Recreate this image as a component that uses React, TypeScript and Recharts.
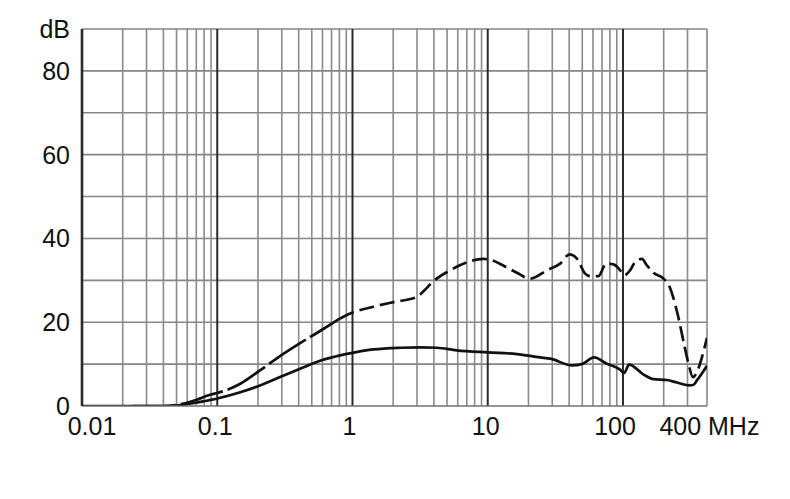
import React from 'react';
import { LineChart, Line, XAxis, YAxis, ReferenceLine } from 'recharts';

// ---- data ----
const solidFreq = [0.01, 0.041, 0.056, 0.075, 0.1, 0.148, 0.207, 0.291, 0.41, 0.576, 0.81, 1.0, 1.43, 2.25, 3.16, 4.2, 5.9, 10, 16.4, 24.4, 29, 41.9, 49.6, 61.2, 76, 95.3, 102, 111, 142, 168, 211, 251, 310, 330, 352, 418];
const solidDb = [0, 0, 0.3, 1.0, 1.8, 3.3, 4.9, 6.9, 8.9, 10.8, 12.1, 12.7, 13.5, 13.9, 14.0, 13.9, 13.3, 12.8, 12.4, 11.6, 11.3, 9.7, 10.0, 11.6, 10.1, 8.7, 7.9, 9.9, 7.5, 6.4, 6.2, 5.6, 4.9, 5.0, 6.1, 9.6];

const dashFreq = [0.0234, 0.0397, 0.0531, 0.0705, 0.0885, 0.1, 0.148, 0.207, 0.291, 0.41, 0.576, 0.81, 1.0, 1.43, 2.01, 2.99, 3.35, 3.97, 5.27, 7.0, 9.3, 10.4, 13.1, 16.4, 20.6, 27.4, 34.3, 40.3, 45.6, 52.5, 57.2, 65.9, 75.1, 85.1, 95.3, 102, 113, 123, 138, 150, 168, 199.5, 217, 251, 284, 305, 329, 352, 384, 418];
const dashDb = [0, 0, 0.4, 1.5, 2.7, 3.1, 5.3, 8.5, 11.9, 15.0, 17.9, 20.9, 22.3, 23.7, 24.8, 26.0, 27.4, 29.8, 32.4, 34.3, 35.1, 34.9, 33.5, 31.8, 30.4, 32.4, 34.0, 36.2, 35.2, 31.6, 31.0, 31.0, 34.0, 33.8, 32.4, 31.2, 32.4, 34.4, 35.1, 33.6, 31.8, 30.4, 29.0, 22.5, 14.5, 10.1, 6.9, 8.1, 11.7, 16.3];
// index where the long-dash part of the upper curve ends and the short-dash part begins
const DASH_SPLIT = 11;

const xTickValues = [0.01, 0.1, 1, 10, 100, 400];
const xTickLabels = ['0.01', '0.1', '1', '10', '100', '400 MHz'];
const yTickValues = [0, 20, 40, 60, 80, 90];
const yTickLabels = ['0', '20', '40', '60', '80', 'dB'];
const yGridValues = [10, 20, 30, 40, 50, 60, 70, 80, 90];
const decadeValues = [0.1, 1, 10, 100];
const decadeStarts = [0.01, 0.1, 1, 10, 100];
const minorMultipliers = [2, 3, 4, 5, 6, 7, 8, 9];
const X_MIN = 0.01;
const X_MAX = 418;
const Y_MAX = 90;

const solidData = solidFreq.map((f, i) => ({ f, db: solidDb[i] }));
const dashData = dashFreq.map((f, i) => ({ f, db: dashDb[i] }));
const dashLow = dashData.slice(0, DASH_SPLIT + 1);
const dashHigh = dashData.slice(DASH_SPLIT);
const minorValues: number[] = [];
decadeStarts.forEach((d) =>
  minorMultipliers.forEach((m) => {
    const v = d * m;
    if (v < 400) minorValues.push(v);
  })
);

// ---- styles ----
const FONT = '"Liberation Sans", Arial, sans-serif';
const FS = 25;
const xTickDx = [10, -2, -3, -2, -8, 5];

function XTick(props: any) {
  const { x, y, payload } = props;
  const i = xTickValues.indexOf(payload.value);
  if (i < 0) return null;
  return (
    <text x={x + xTickDx[i]} y={y} dy="0.71em" textAnchor="middle" fontSize={FS} fontFamily={FONT} fill="#111">
      {xTickLabels[i]}
    </text>
  );
}

function YTick(props: any) {
  const { x, y, payload } = props;
  const i = yTickValues.indexOf(payload.value);
  if (i < 0) return null;
  return (
    <text x={x} y={y} dy="0.355em" textAnchor="end" fontSize={FS} fontFamily={FONT} fill="#111">
      {yTickLabels[i]}
    </text>
  );
}

export default function App() {
  return (
    <div style={{ width: 774, height: 483, background: '#fff' }}>
      <LineChart width={774} height={483} margin={{ top: 21, right: 75, bottom: 45, left: 14 }}>
        <XAxis
          dataKey="f"
          type="number"
          scale="log"
          domain={[X_MIN, X_MAX]}
          allowDataOverflow
          ticks={xTickValues}
          interval={0}
          tick={<XTick />}
          tickLine={false}
          tickSize={0}
          tickMargin={11}
          height={40}
          axisLine={{ stroke: '#6f6f6f', strokeWidth: 1.6 }}
        />
        <YAxis
          type="number"
          domain={[0, Y_MAX]}
          allowDataOverflow
          ticks={yTickValues}
          interval={0}
          tick={<YTick />}
          tickLine={false}
          tickSize={0}
          tickMargin={12}
          width={60}
          axisLine={{ stroke: '#2a2a2a', strokeWidth: 2.6 }}
        />
        {yGridValues.map((v) => (
          <ReferenceLine key={'h' + v} y={v} stroke="#858585" strokeWidth={1.6} />
        ))}
        {minorValues.map((v) => (
          <ReferenceLine key={'m' + v} x={v} stroke="#8a8a8a" strokeWidth={1.6} />
        ))}
        <ReferenceLine x={X_MAX} stroke="#8a8a8a" strokeWidth={1.6} />
        {decadeValues.map((v) => (
          <ReferenceLine key={'d' + v} x={v} stroke="#2a2a2a" strokeWidth={2} />
        ))}
        <Line
          data={solidData}
          dataKey="db"
          type="monotone"
          stroke="#111"
          strokeWidth={2.7}
          dot={false}
          isAnimationActive={false}
        />
        <Line
          data={dashLow}
          dataKey="db"
          type="monotone"
          stroke="#111"
          strokeWidth={2.7}
          strokeDasharray="44 5"
          dot={false}
          isAnimationActive={false}
        />
        <Line
          data={dashHigh}
          dataKey="db"
          type="monotone"
          stroke="#111"
          strokeWidth={2.7}
          strokeDasharray="15 6"
          dot={false}
          isAnimationActive={false}
        />
      </LineChart>
    </div>
  );
}
